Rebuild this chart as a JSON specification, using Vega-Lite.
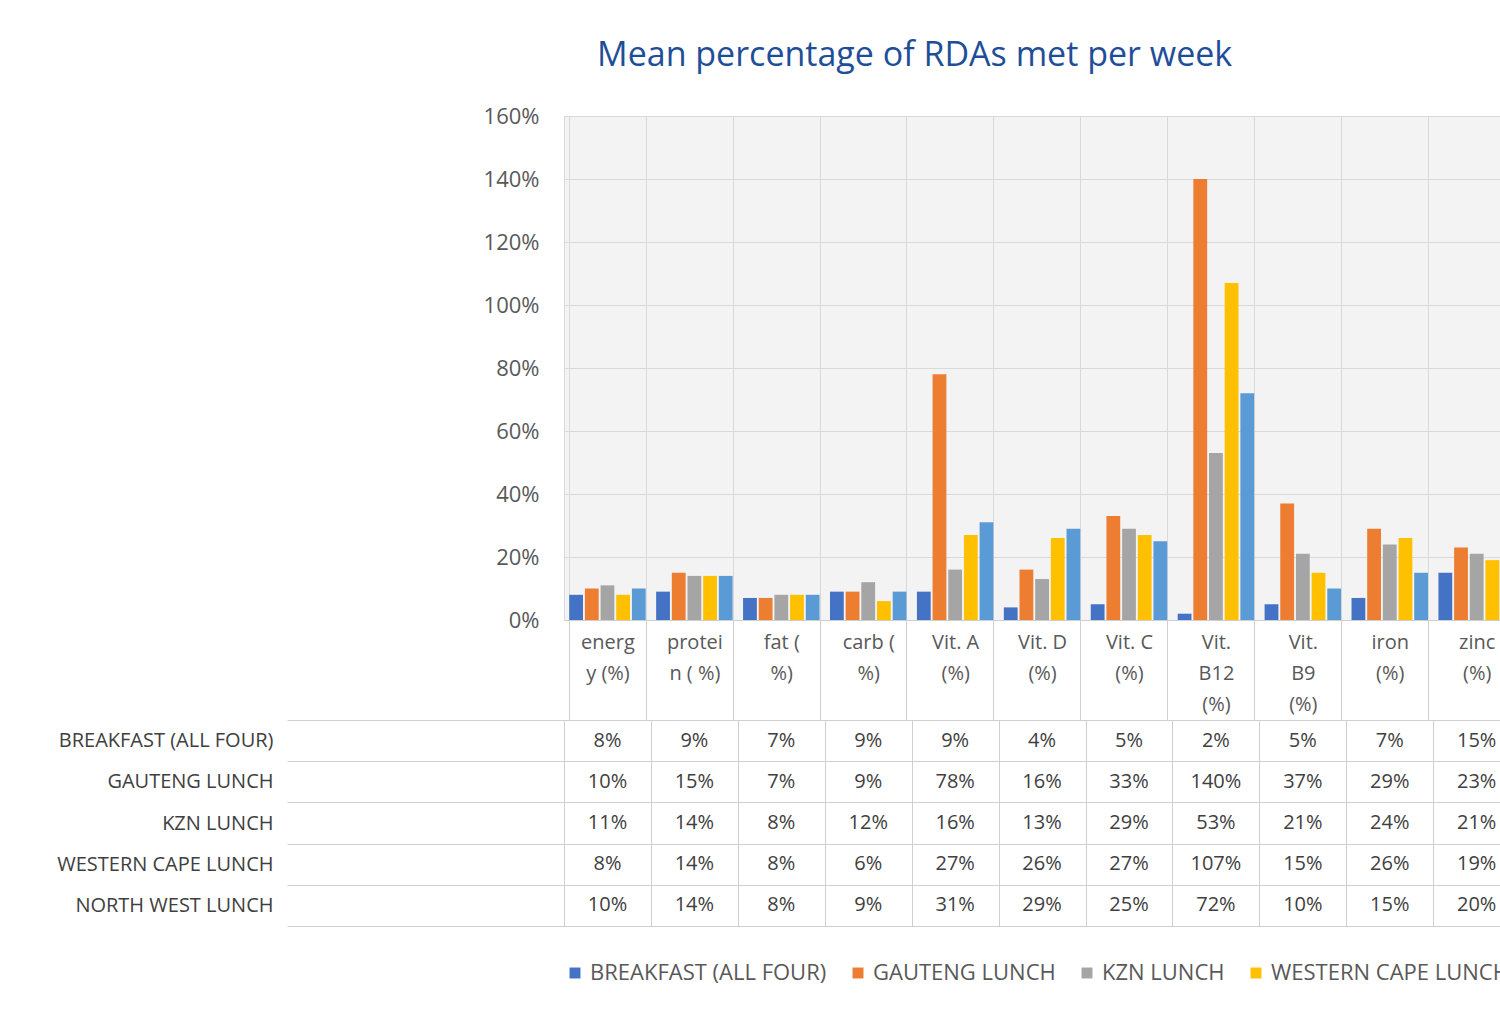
{
"$schema":"https://vega.github.io/schema/vega-lite/v6.json",
"background":"white",
"padding":{"left":56,"top":38,"right":30,"bottom":10},
"title":{"text":"Mean percentage of RDAs met per week","font":"Open Sans","fontSize":34,"fontWeight":"normal","color":"#1F4E99","offset":32,"anchor":"middle"},
"config":{"font":"Open Sans","view":{"stroke":null},"concat":{"spacing":100},"axis":{"labelFont":"Open Sans","labelColor":"#595959"}},
"bounds":"flush",
"data":{"values":[
{"c":"energ|y (%)","s":"BREAKFAST (ALL FOUR)","v":0.08},{"c":"energ|y (%)","s":"GAUTENG LUNCH","v":0.10},{"c":"energ|y (%)","s":"KZN LUNCH","v":0.11},{"c":"energ|y (%)","s":"WESTERN CAPE LUNCH","v":0.08},{"c":"energ|y (%)","s":"NORTH WEST LUNCH","v":0.10},
{"c":"protei|n ( %)","s":"BREAKFAST (ALL FOUR)","v":0.09},{"c":"protei|n ( %)","s":"GAUTENG LUNCH","v":0.15},{"c":"protei|n ( %)","s":"KZN LUNCH","v":0.14},{"c":"protei|n ( %)","s":"WESTERN CAPE LUNCH","v":0.14},{"c":"protei|n ( %)","s":"NORTH WEST LUNCH","v":0.14},
{"c":"fat (|%)","s":"BREAKFAST (ALL FOUR)","v":0.07},{"c":"fat (|%)","s":"GAUTENG LUNCH","v":0.07},{"c":"fat (|%)","s":"KZN LUNCH","v":0.08},{"c":"fat (|%)","s":"WESTERN CAPE LUNCH","v":0.08},{"c":"fat (|%)","s":"NORTH WEST LUNCH","v":0.08},
{"c":"carb (|%)","s":"BREAKFAST (ALL FOUR)","v":0.09},{"c":"carb (|%)","s":"GAUTENG LUNCH","v":0.09},{"c":"carb (|%)","s":"KZN LUNCH","v":0.12},{"c":"carb (|%)","s":"WESTERN CAPE LUNCH","v":0.06},{"c":"carb (|%)","s":"NORTH WEST LUNCH","v":0.09},
{"c":"Vit. A|(%)","s":"BREAKFAST (ALL FOUR)","v":0.09},{"c":"Vit. A|(%)","s":"GAUTENG LUNCH","v":0.78},{"c":"Vit. A|(%)","s":"KZN LUNCH","v":0.16},{"c":"Vit. A|(%)","s":"WESTERN CAPE LUNCH","v":0.27},{"c":"Vit. A|(%)","s":"NORTH WEST LUNCH","v":0.31},
{"c":"Vit. D|(%)","s":"BREAKFAST (ALL FOUR)","v":0.04},{"c":"Vit. D|(%)","s":"GAUTENG LUNCH","v":0.16},{"c":"Vit. D|(%)","s":"KZN LUNCH","v":0.13},{"c":"Vit. D|(%)","s":"WESTERN CAPE LUNCH","v":0.26},{"c":"Vit. D|(%)","s":"NORTH WEST LUNCH","v":0.29},
{"c":"Vit. C|(%)","s":"BREAKFAST (ALL FOUR)","v":0.05},{"c":"Vit. C|(%)","s":"GAUTENG LUNCH","v":0.33},{"c":"Vit. C|(%)","s":"KZN LUNCH","v":0.29},{"c":"Vit. C|(%)","s":"WESTERN CAPE LUNCH","v":0.27},{"c":"Vit. C|(%)","s":"NORTH WEST LUNCH","v":0.25},
{"c":"Vit.|B12|(%)","s":"BREAKFAST (ALL FOUR)","v":0.02},{"c":"Vit.|B12|(%)","s":"GAUTENG LUNCH","v":1.40},{"c":"Vit.|B12|(%)","s":"KZN LUNCH","v":0.53},{"c":"Vit.|B12|(%)","s":"WESTERN CAPE LUNCH","v":1.07},{"c":"Vit.|B12|(%)","s":"NORTH WEST LUNCH","v":0.72},
{"c":"Vit.|B9|(%)","s":"BREAKFAST (ALL FOUR)","v":0.05},{"c":"Vit.|B9|(%)","s":"GAUTENG LUNCH","v":0.37},{"c":"Vit.|B9|(%)","s":"KZN LUNCH","v":0.21},{"c":"Vit.|B9|(%)","s":"WESTERN CAPE LUNCH","v":0.15},{"c":"Vit.|B9|(%)","s":"NORTH WEST LUNCH","v":0.10},
{"c":"iron|(%)","s":"BREAKFAST (ALL FOUR)","v":0.07},{"c":"iron|(%)","s":"GAUTENG LUNCH","v":0.29},{"c":"iron|(%)","s":"KZN LUNCH","v":0.24},{"c":"iron|(%)","s":"WESTERN CAPE LUNCH","v":0.26},{"c":"iron|(%)","s":"NORTH WEST LUNCH","v":0.15},
{"c":"zinc|(%)","s":"BREAKFAST (ALL FOUR)","v":0.15},{"c":"zinc|(%)","s":"GAUTENG LUNCH","v":0.23},{"c":"zinc|(%)","s":"KZN LUNCH","v":0.21},{"c":"zinc|(%)","s":"WESTERN CAPE LUNCH","v":0.19},{"c":"zinc|(%)","s":"NORTH WEST LUNCH","v":0.20},
{"c":"calciu|m (%)","s":"BREAKFAST (ALL FOUR)","v":0.21},{"c":"calciu|m (%)","s":"GAUTENG LUNCH","v":0.20},{"c":"calciu|m (%)","s":"KZN LUNCH","v":0.20},{"c":"calciu|m (%)","s":"WESTERN CAPE LUNCH","v":0.17},{"c":"calciu|m (%)","s":"NORTH WEST LUNCH","v":0.20},
{"c":"PUFA|( %)","s":"BREAKFAST (ALL FOUR)","v":0.02},{"c":"PUFA|( %)","s":"GAUTENG LUNCH","v":0.18},{"c":"PUFA|( %)","s":"KZN LUNCH","v":0.22},{"c":"PUFA|( %)","s":"WESTERN CAPE LUNCH","v":0.28},{"c":"PUFA|( %)","s":"NORTH WEST LUNCH","v":0.23}
]},
"vconcat":[
{"width":1130,"height":504,
 "view":{"fill":"#f3f3f3","stroke":"#d9d9d9"},
 "mark":{"type":"bar"},
 "encoding":{
  "x":{"field":"c","type":"nominal","sort":null,"title":null,"scale":{"paddingInner":0.12,"paddingOuter":0.06},
   "axis":{"labelAngle":0,"labelFontSize":20,"labelExpr":"split(datum.label,'|')","labelPadding":-88,"labelBaseline":"top","labelLineHeight":31,"tickBand":"extent","tickSize":100,"tickColor":"#cfcfcf","domainColor":"#cfcfcf","grid":true,"gridColor":"#d9d9d9"}},
  "xOffset":{"field":"s","type":"nominal","sort":null,"scale":{"paddingInner":0.12}},
  "y":{"field":"v","type":"quantitative","title":null,"scale":{"domain":[0,1.6]},
   "axis":{"format":".0%","values":[0,0.2,0.4,0.6,0.8,1,1.2,1.4,1.6],"labelFontSize":22,"domain":false,"ticks":false,"labelPadding":25,"gridColor":"#d9d9d9"}},
  "color":{"field":"s","type":"nominal","sort":null,"title":null,
   "scale":{"range":["#4472C4","#ED7D31","#A5A5A5","#FFC000","#5B9BD5"]},
   "legend":{"orient":"bottom","direction":"horizontal","symbolType":"square","symbolSize":120,"labelFontSize":22,"labelLimit":0,"labelColor":"#595959","columnPadding":20,"offset":35}}
 }},
{"width":1130,"height":206,
 "view":{"stroke":"#cfcfcf"},
 "mark":{"type":"text","fontSize":20,"color":"#404040","format":".0%"},
 "encoding":{
  "x":{"field":"c","type":"nominal","sort":null,"title":null,"axis":{"labels":false,"ticks":false,"domain":false,"grid":true,"tickBand":"extent","gridColor":"#cfcfcf"}},
  "y":{"field":"s","type":"nominal","sort":null,"title":null,"axis":{"labelAlign":"right","labelPadding":14,"labelLimit":0,"labelFontSize":20,"labelColor":"#404040","tickBand":"extent","tickSize":277,"tickColor":"#cfcfcf","domain":false,"grid":true,"gridColor":"#cfcfcf"}},
  "text":{"field":"v","type":"quantitative","format":".0%"}
 }}
]}
